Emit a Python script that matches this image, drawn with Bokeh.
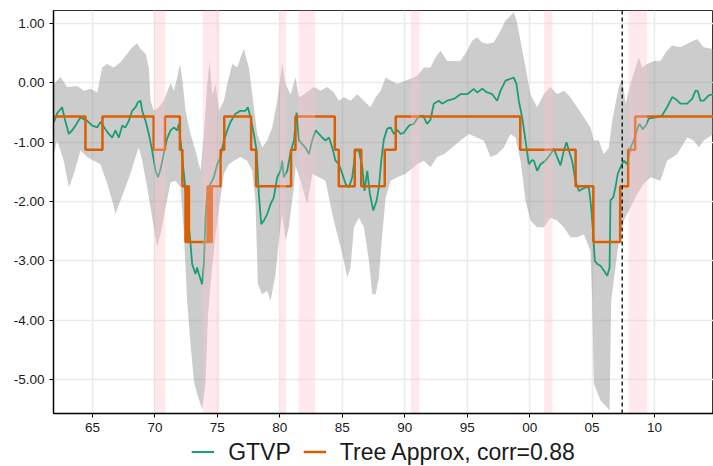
from bokeh.plotting import figure
from bokeh.layouts import column
from bokeh.models import (Range1d, FixedTicker, NumeralTickFormatter, Legend, LegendItem,
                          Span, ColumnDataSource)
from bokeh.embed import file_html
from bokeh.resources import INLINE

# ---------------- data ----------------
gtvp_year = [1961.91, 1962.20, 1962.57, 1962.80, 1963.11, 1963.37, 1963.64, 1964.04, 1964.31, 1964.58,
             1964.98, 1965.38, 1965.64, 1966.04, 1966.31, 1966.58, 1966.84, 1967.11, 1967.38, 1967.64,
             1967.91, 1968.18, 1968.45, 1968.63, 1968.85, 1968.98, 1969.25, 1969.51, 1969.78, 1970.05,
             1970.25, 1970.45, 1970.70, 1970.95, 1971.25, 1971.52, 1971.78, 1971.92, 1972.05, 1972.32,
             1972.58, 1972.85, 1972.98, 1973.25, 1973.38, 1973.52, 1973.78, 1973.92, 1974.05, 1974.19,
             1974.45, 1974.72, 1974.99, 1975.25, 1975.52, 1975.79, 1976.05, 1976.45, 1976.85, 1977.25,
             1977.44, 1977.65, 1977.92, 1978.14, 1978.32, 1978.51, 1978.72, 1978.99, 1979.26, 1979.52,
             1979.79, 1980.06, 1980.19, 1980.32, 1980.59, 1980.86, 1981.13, 1981.34, 1981.53, 1981.79,
             1982.06, 1982.33, 1982.59, 1982.86, 1983.13, 1983.39, 1983.66, 1983.93, 1984.20, 1984.46,
             1984.73, 1985.00, 1985.26, 1985.53, 1985.80, 1986.06, 1986.33, 1986.60, 1986.78, 1987.00,
             1987.21, 1987.48, 1987.75, 1987.93, 1988.12, 1988.33, 1988.60, 1988.87, 1989.13, 1989.40,
             1989.67, 1989.93, 1990.33, 1990.73, 1991.13, 1991.47, 1991.79, 1992.06, 1992.33, 1992.73,
             1992.99, 1993.40, 1993.93, 1994.46, 1995.00, 1995.53, 1995.80, 1996.20, 1996.60, 1997.00,
             1997.40, 1997.67, 1998.07, 1998.47, 1998.73, 1998.95, 1999.13, 1999.40, 1999.67, 1999.93,
             2000.20, 2000.34, 2000.60, 2000.87, 2001.27, 2001.67, 2001.94, 2002.20, 2002.47, 2002.74,
             2002.95, 2003.14, 2003.40, 2003.67, 2003.94, 2004.20, 2004.47, 2004.74, 2004.93, 2005.09,
             2005.22, 2005.41, 2005.67, 2005.94, 2006.21, 2006.40, 2006.47, 2006.69, 2006.87, 2007.06,
             2007.28, 2007.54, 2007.80, 2008.08, 2008.34, 2008.61, 2008.80, 2009.05, 2009.30, 2009.54,
             2010.07, 2010.60, 2011.00, 2011.41, 2011.67, 2012.07, 2012.61, 2013.01, 2013.28, 2013.46,
             2013.68, 2013.94, 2014.34, 2014.72]
gtvp_value = [-0.66, -0.50, -0.41, -0.62, -0.86, -0.80, -0.72, -0.58, -0.61, -0.64,
              -0.72, -0.75, -0.66, -0.78, -0.86, -0.92, -0.80, -0.92, -0.72, -0.75,
              -0.64, -0.47, -0.41, -0.33, -0.30, -0.47, -0.64, -0.86, -1.14, -1.48,
              -1.59, -1.45, -1.20, -0.95, -0.80, -0.75, -0.80, -0.69, -0.97, -1.53,
              -2.10, -2.71, -3.05, -3.22, -3.11, -3.22, -3.39, -3.05, -2.26, -1.87,
              -1.70, -1.59, -1.37, -1.25, -0.97, -0.80, -0.66, -0.52, -0.47, -0.47,
              -0.41, -0.58, -0.86, -1.14, -1.87, -2.38, -2.32, -2.21, -2.04, -1.93,
              -1.59, -1.48, -1.31, -1.59, -1.48, -1.17, -0.97, -0.50, -0.97, -1.03,
              -1.09, -1.20, -0.97, -0.80, -0.86, -0.92, -0.97, -0.92, -1.09, -1.31,
              -1.37, -1.53, -1.70, -1.76, -1.59, -1.14, -1.14, -1.42, -1.82, -1.48,
              -1.87, -2.15, -1.98, -1.76, -1.31, -0.95, -0.77, -0.75, -0.86, -0.79,
              -0.86, -0.84, -0.72, -0.69, -0.56, -0.55, -0.69, -0.62, -0.35, -0.30,
              -0.35, -0.30, -0.27, -0.19, -0.19, -0.10, -0.16, -0.10, -0.16, -0.19,
              -0.30, -0.13, 0.04, 0.07, 0.09, -0.02, -0.30, -0.58, -0.97, -1.37,
              -1.30, -1.31, -1.48, -1.37, -1.31, -1.20, -1.11, -1.25, -1.39, -1.14,
              -1.00, -1.14, -1.31, -1.65, -1.82, -1.79, -1.76, -1.76, -2.10, -2.55,
              -3.00, -3.05, -3.08, -3.16, -3.25, -3.11, -1.98, -1.93, -1.76, -1.53,
              -1.42, -1.31, -1.37, -1.09, -0.97, -0.78, -0.69, -0.78, -0.72, -0.60,
              -0.58, -0.55, -0.41, -0.24, -0.27, -0.35, -0.35, -0.27, -0.13, -0.14,
              -0.30, -0.30, -0.21, -0.19]

upper_year = [1961.90, 1962.44, 1962.97, 1963.78, 1964.31, 1964.84, 1965.38, 1965.78, 1966.18, 1966.71,
              1967.24, 1967.78, 1968.18, 1968.58, 1968.85, 1969.25, 1969.51, 1969.65, 1969.91, 1970.31,
              1970.71, 1971.25, 1971.52, 1971.78, 1972.00, 1972.18, 1972.45, 1972.85, 1973.25, 1973.65,
              1973.92, 1974.19, 1974.37, 1974.59, 1974.85, 1975.12, 1975.52, 1975.79, 1976.19, 1976.59,
              1976.85, 1977.12, 1977.52, 1977.79, 1978.19, 1978.59, 1978.99, 1979.39, 1979.79, 1980.19,
              1980.46, 1980.86, 1981.26, 1981.53, 1981.93, 1982.33, 1982.73, 1983.26, 1983.80, 1984.33,
              1984.73, 1985.13, 1985.66, 1986.20, 1986.73, 1987.26, 1987.67, 1988.07, 1988.47, 1988.87,
              1989.40, 1990.07, 1990.73, 1991.00, 1991.53, 1992.06, 1992.46, 1992.86, 1993.40, 1993.93,
              1994.46, 1995.00, 1995.40, 1995.80, 1996.20, 1996.60, 1997.13, 1997.67, 1998.07, 1998.47,
              1998.73, 1998.95, 1999.27, 1999.67, 2000.07, 2000.60, 2001.14, 2001.67, 2002.20, 2002.74,
              2003.27, 2003.80, 2004.34, 2004.87, 2005.14, 2005.54, 2005.94, 2006.34, 2006.61, 2006.87,
              2007.14, 2007.41, 2007.68, 2008.08, 2008.48, 2008.74, 2009.01, 2009.41, 2009.94, 2010.47,
              2011.00, 2011.41, 2012.07, 2012.61, 2013.41, 2013.94, 2014.72]
upper_value = [-0.02, 0.10, -0.07, -0.05, -0.13, -0.10, -0.16, 0.26, 0.32, 0.26,
               0.35, 0.49, 0.60, 0.67, 0.57, 0.49, 0.26, -0.30, -0.47, -0.41,
               -0.30, 0.00, -0.13, 0.09, 0.32, 0.09, -0.47, -0.86, -1.14, -1.48,
               -0.86, -0.02, 0.37, -0.19, -0.02, -0.47, -0.30, -0.02, 0.32, 0.26,
               0.43, 0.57, 0.26, -0.19, -0.86, -1.09, -0.97, -0.75, -0.30, 0.32,
               -0.02, -0.20, 0.09, -0.24, -0.19, -0.13, -0.07, -0.13, -0.07, -0.16,
               -0.30, -0.24, -0.30, -0.19, -0.30, -0.41, -0.24, -0.13, 0.09, 0.04,
               -0.02, 0.04, 0.09, 0.12, 0.26, 0.26, 0.43, 0.54, 0.37, 0.37,
               0.37, 0.54, 0.71, 0.77, 0.68, 0.66, 0.68, 0.88, 1.05, 1.13,
               1.19, 1.05, 0.71, 0.26, -0.20, -0.41, -0.19, -0.07, -0.19, -0.13,
               -0.24, -0.41, -0.58, -0.75, -0.97, -0.97, -1.20, -1.09, -0.64, -0.35,
               -0.07, 0.09, -0.35, -0.02, 0.26, 0.43, 0.26, 0.32, 0.37, 0.37,
               0.54, 0.63, 0.60, 0.66, 0.74, 0.60, 0.57]

lower_year = [1961.90, 1962.17, 1962.70, 1963.11, 1963.51, 1964.04, 1964.58, 1965.11, 1965.64, 1966.18,
              1966.58, 1966.84, 1967.24, 1967.64, 1968.04, 1968.45, 1968.71, 1968.98, 1969.38, 1969.65,
              1969.91, 1970.18, 1970.45, 1970.85, 1971.25, 1971.65, 1972.05, 1972.32, 1972.58, 1972.85,
              1973.12, 1973.38, 1973.78, 1974.05, 1974.24, 1974.45, 1974.72, 1974.99, 1975.25, 1975.52,
              1975.92, 1976.32, 1976.85, 1977.38, 1977.79, 1978.05, 1978.24, 1978.59, 1978.99, 1979.26,
              1979.66, 1979.92, 1980.19, 1980.46, 1980.72, 1981.12, 1981.26, 1981.66, 1982.20, 1982.60,
              1983.13, 1983.66, 1984.20, 1984.60, 1985.00, 1985.40, 1985.66, 1985.93, 1986.33, 1986.73,
              1987.13, 1987.40, 1987.67, 1987.93, 1988.20, 1988.47, 1988.87, 1989.40, 1990.07, 1990.73,
              1990.99, 1991.53, 1992.06, 1992.60, 1993.13, 1993.80, 1994.46, 1995.13, 1995.80, 1996.33,
              1996.87, 1997.40, 1997.93, 1998.47, 1998.87, 1999.27, 1999.67, 2000.07, 2000.60, 2001.14,
              2001.67, 2002.20, 2002.74, 2003.27, 2003.80, 2004.34, 2004.87, 2005.01, 2005.14, 2005.67,
              2006.21, 2006.40, 2006.53, 2006.87, 2007.14, 2007.54, 2008.08, 2008.61, 2009.14, 2009.68,
              2010.47, 2011.00, 2011.81, 2012.61, 2013.14, 2013.54, 2013.94, 2014.72]
lower_value = [-1.20, -0.97, -1.31, -1.76, -1.53, -1.14, -1.25, -1.31, -1.37, -1.70,
               -1.98, -2.21, -1.98, -1.76, -1.53, -1.25, -1.09, -1.31, -1.76, -2.10,
               -2.43, -2.77, -2.55, -2.10, -1.68, -1.65, -1.76, -2.55, -3.67, -4.40,
               -5.02, -5.24, -5.50, -5.07, -3.95, -3.39, -2.83, -2.32, -1.93, -1.53,
               -1.37, -1.31, -1.25, -1.31, -1.48, -1.98, -3.39, -3.56, -3.50, -3.67,
               -3.22, -2.66, -2.21, -2.66, -2.43, -1.76, -1.40, -1.65, -2.04, -1.53,
               -1.59, -1.65, -2.21, -2.55, -2.88, -3.28, -3.11, -2.43, -2.27, -2.43,
               -2.99, -3.56, -3.56, -3.28, -2.55, -1.93, -1.65, -1.59, -1.53, -1.42,
               -1.37, -1.31, -1.42, -1.25, -1.20, -1.09, -0.97, -0.86, -0.92, -0.97,
               -1.25, -1.20, -1.09, -0.86, -0.92, -1.31, -1.98, -2.32, -2.43, -2.43,
               -2.27, -2.32, -2.43, -2.60, -2.60, -2.55, -2.83, -3.67, -5.07, -5.35,
               -5.47, -5.52, -3.67, -3.11, -2.66, -2.32, -2.10, -1.87, -1.70, -1.59,
               -1.65, -1.31, -1.20, -0.92, -0.97, -1.09, -0.97, -0.86]

tree_year = [1961.88, 1964.44, 1965.80, 1969.90, 1970.80, 1972.00, 1972.20, 1972.45, 1972.52, 1972.58,
             1972.65, 1972.72, 1974.22, 1974.30, 1974.38, 1974.45, 1974.55, 1975.25, 1975.55, 1977.70,
             1978.10, 1980.90, 1981.25, 1984.40, 1984.72, 1986.00, 1986.52, 1988.40, 1989.28, 1999.25,
             2003.68, 2005.10, 2007.25, 2007.90, 2008.45, 2014.72]
tree_value = [-0.565, -1.125, -0.565, -1.125, -0.565, -1.125, -1.74, -2.68, -1.74, -2.68,
              -1.74, -2.68, -1.74, -2.68, -1.74, -2.68, -1.74, -1.125, -0.565, -1.125,
              -1.74, -1.125, -0.565, -1.125, -1.74, -1.125, -1.74, -1.125, -0.565, -1.125,
              -1.74, -2.68, -1.74, -1.125, -0.565, -0.565]

recession_start = [1969.92, 1973.83, 1980.00, 1981.50, 1990.50, 2001.17, 2007.92]
recession_end = [1970.83, 1975.17, 1980.50, 1982.83, 1991.17, 2001.83, 2009.42]

event_year = [2007.41]

series_labels = ["GTVP", "Tree Approx, corr=0.88"]
series_colors = ["#1b9e77", "#d95f02"]
series_widths = [1.8, 2.5]

x_ticks = [1965, 1970, 1975, 1980, 1985, 1990, 1995, 2000, 2005, 2010]
x_tick_labels = ["65", "70", "75", "80", "85", "90", "95", "00", "05", "10"]
y_ticks = [-5, -4, -3, -2, -1, 0, 1]

X_MIN, X_MAX = 1961.88, 2014.72
Y_MIN, Y_MAX = -5.57, 1.22

FONT = "Liberation Sans"

# ---------------- main figure ----------------
p = figure(width=713, height=437, output_backend="svg", toolbar_location=None,
           x_range=Range1d(X_MIN, X_MAX), y_range=Range1d(Y_MIN, Y_MAX),
           min_border_left=53, min_border_right=0, min_border_top=10, min_border_bottom=24)
p.background_fill_color = "white"
p.border_fill_color = "white"
p.outline_line_color = "#333333"
p.outline_line_width = 1

p.xgrid.ticker = FixedTicker(ticks=x_ticks)
p.ygrid.ticker = FixedTicker(ticks=y_ticks)
for g in (p.xgrid, p.ygrid):
    g.grid_line_color = "#ebebeb"
    g.grid_line_width = 1.5

p.xaxis.ticker = FixedTicker(ticks=x_ticks)
p.xaxis.major_label_overrides = {t: l for t, l in zip(x_ticks, x_tick_labels)}
p.yaxis.ticker = FixedTicker(ticks=y_ticks)
p.yaxis.formatter = NumeralTickFormatter(format="0.00")
for ax in (p.xaxis, p.yaxis):
    ax.axis_line_color = "black"
    ax.axis_line_width = 1.5
    ax.major_tick_line_color = "black"
    ax.major_tick_line_width = 1
    ax.major_tick_out = 4
    ax.major_tick_in = 0
    ax.minor_tick_line_color = None
    ax.major_label_text_font = FONT
    ax.major_label_text_font_size = "13.5px"
    ax.major_label_text_color = "#1a1a1a"
    ax.major_label_standoff = 5

band_x = upper_year + lower_year[::-1]
band_y = upper_value + lower_value[::-1]
p.patch(band_x, band_y, fill_color="gray", fill_alpha=0.4, line_color=None)

p.line(gtvp_year, gtvp_value, line_color=series_colors[0], line_width=series_widths[0])
p.step(tree_year, tree_value, mode="after", line_color=series_colors[1], line_width=series_widths[1])

rec_src = ColumnDataSource(dict(left=recession_start, right=recession_end,
                                bottom=[Y_MIN] * len(recession_start),
                                top=[Y_MAX] * len(recession_start)))
p.quad(left="left", right="right", bottom="bottom", top="top", source=rec_src,
       fill_color="pink", fill_alpha=0.35, line_color=None)

for ev in event_year:
    p.add_layout(Span(location=ev, dimension="height", line_color="black",
                      line_width=1.3, line_dash="4 3"))

# ---------------- legend strip ----------------
# the series are drawn again here, outside this strip's visible range, only to key the legend
lg = figure(width=713, height=29, output_backend="svg", toolbar_location=None,
            x_axis_type=None, y_axis_type=None, x_range=Range1d(0, 1), y_range=Range1d(0, 1),
            min_border_left=44, min_border_right=0, min_border_top=0, min_border_bottom=0)
lg.outline_line_color = None
lg.grid.visible = False
legend_renderers = [
    lg.line(gtvp_year, gtvp_value, line_color=series_colors[0], line_width=series_widths[0]),
    lg.line(tree_year, tree_value, line_color=series_colors[1], line_width=series_widths[1]),
]
items = [LegendItem(label=lab, renderers=[r]) for lab, r in zip(series_labels, legend_renderers)]
legend = Legend(items=items, orientation="horizontal", location="center",
                label_text_font=FONT, label_text_font_size="23px",
                label_text_color="#1a1a1a", label_height=24, glyph_height=24,
                glyph_width=23, label_standoff=14, spacing=12,
                padding=0, margin=0, border_line_color=None,
                background_fill_alpha=0)
lg.add_layout(legend, "center")

layout = column(p, lg, spacing=0)
open("out.html", "w").write(file_html(layout, INLINE))
